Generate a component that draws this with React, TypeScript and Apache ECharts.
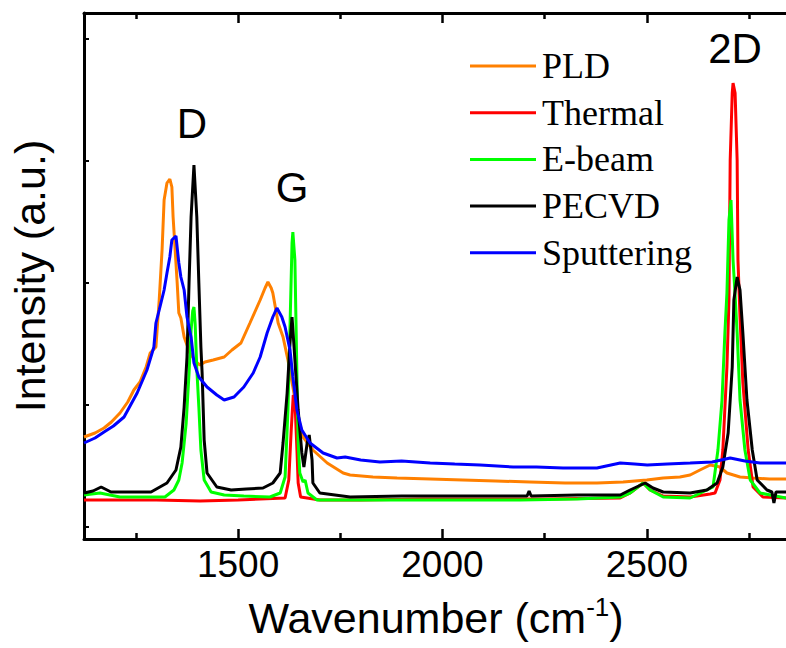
import React, { useEffect, useRef } from "react";
import * as echarts from "echarts";

const seriesNames = ["PLD", "Thermal", "E-beam", "PECVD", "Sputtering"];
const seriesColors = ["#FF8000", "#FF0000", "#00FF00", "#000000", "#0000FF"];

// [wavenumber (cm-1), intensity (a.u.)]
const pld: [number, number][] = [
  [1123, 102], [1150, 106], [1172, 111], [1190, 117], [1211, 126], [1230, 137], [1245, 149], [1260, 157],
  [1275, 172], [1285, 186], [1299, 192], [1307, 239], [1314, 289], [1319, 339], [1326, 356], [1333, 360],
  [1338, 352], [1341, 322], [1346, 289], [1351, 256], [1355, 226], [1360, 221], [1368, 202], [1382, 186],
  [1397, 177], [1407, 174], [1419, 177], [1439, 179], [1466, 182], [1485, 189], [1507, 196], [1529, 216],
  [1554, 239], [1566, 251], [1573, 257], [1581, 251], [1585, 246], [1598, 216], [1610, 202], [1622, 179],
  [1634, 152], [1647, 122], [1659, 102], [1683, 89], [1718, 76], [1757, 66], [1774, 64], [1830, 62],
  [1889, 61], [1970, 60], [2050, 59], [2130, 58], [2214, 57], [2300, 56], [2378, 56], [2442, 57],
  [2500, 59], [2540, 61], [2581, 62], [2606, 64], [2630, 69], [2655, 74], [2679, 72], [2696, 66],
  [2728, 62], [2760, 61], [2800, 60], [2841, 60],
];

const thermal: [number, number][] = [
  [1123, 39], [1200, 39], [1300, 39], [1407, 38], [1500, 39], [1615, 41], [1624, 59], [1630, 109],
  [1635, 144], [1639, 139], [1644, 89], [1647, 56], [1653, 42], [1700, 39], [1800, 39], [1950, 40],
  [2100, 40], [2250, 40], [2435, 41], [2459, 46], [2491, 56], [2508, 49], [2540, 43], [2606, 42],
  [2655, 45], [2667, 46], [2679, 59], [2686, 89], [2696, 172], [2701, 239], [2704, 379], [2709, 446],
  [2711, 456], [2716, 446], [2721, 379], [2723, 279], [2728, 222], [2735, 156], [2748, 89], [2760, 52],
  [2784, 42], [2841, 41],
];

const ebeam: [number, number][] = [
  [1123, 44], [1162, 46], [1211, 42], [1270, 42], [1321, 42], [1343, 49], [1355, 59], [1363, 76],
  [1373, 116], [1380, 166], [1385, 209], [1389, 228], [1392, 232], [1395, 215], [1399, 170], [1404, 132],
  [1409, 89], [1417, 59],
  [1434, 47], [1466, 44], [1514, 43], [1578, 42], [1603, 46], [1615, 62], [1622, 129], [1627, 212],
  [1632, 296], [1634, 307], [1639, 279], [1644, 162], [1647, 96], [1651, 66], [1659, 57], [1664, 59],
  [1671, 46], [1693, 39], [1800, 39], [1896, 39], [2050, 39], [2190, 39], [2330, 40], [2435, 42],
  [2459, 46], [2491, 56], [2508, 49], [2540, 42], [2606, 41], [2662, 52], [2674, 89], [2684, 139],
  [2691, 206], [2696, 246], [2701, 319], [2706, 339], [2711, 279], [2716, 244], [2721, 206], [2728, 139],
  [2740, 89], [2753, 59], [2777, 46], [2841, 41],
];

const pecvd: [number, number][] = [
  [1123, 46], [1145, 48], [1165, 52], [1189, 47], [1240, 47], [1287, 47], [1326, 56], [1348, 69],
  [1360, 92], [1368, 132], [1375, 182], [1380, 256], [1385, 322], [1392, 374], [1399, 322], [1404, 256],
  [1409, 192], [1412, 166], [1417, 99], [1424, 66], [1448, 52], [1483, 49], [1520, 50], [1561, 51],
  [1585, 56], [1603, 66], [1610, 96], [1620, 146], [1627, 196], [1632, 222], [1639, 179], [1647, 129],
  [1656, 86], [1661, 72], [1669, 96], [1674, 104], [1681, 79], [1683, 56], [1700, 46], [1774, 42],
  [1900, 43], [2019, 43], [2120, 43], [2207, 43], [2212, 48], [2217, 43], [2330, 44], [2435, 44],
  [2459, 49], [2496, 56], [2515, 51], [2540, 47], [2606, 46], [2647, 49], [2672, 56], [2686, 72],
  [2699, 106], [2709, 172], [2713, 239], [2721, 262], [2728, 249], [2735, 206], [2745, 139], [2758, 89],
  [2770, 59], [2794, 49], [2806, 47], [2811, 36], [2816, 47], [2841, 47],
];

const sputtering: [number, number][] = [
  [1123, 96], [1150, 101], [1172, 107], [1195, 113], [1221, 122], [1253, 146], [1277, 169], [1294, 192],
  [1299, 216], [1307, 229], [1319, 249], [1326, 266], [1333, 282], [1338, 299], [1348, 303], [1355, 276],
  [1360, 262], [1368, 249], [1375, 222], [1385, 202], [1392, 176], [1404, 162], [1424, 152], [1448, 144],
  [1466, 139], [1490, 142], [1514, 152], [1537, 166], [1554, 182], [1571, 206], [1585, 222], [1595, 231],
  [1607, 222], [1615, 212], [1627, 189], [1634, 162], [1644, 129], [1656, 109], [1676, 96], [1708, 86],
  [1742, 81], [1762, 82], [1800, 79], [1847, 77], [1900, 78], [1970, 76], [2030, 75], [2092, 74],
  [2173, 72], [2230, 72], [2295, 71], [2378, 71], [2435, 76], [2470, 75], [2501, 74], [2550, 75],
  [2606, 76], [2660, 77], [2704, 81], [2740, 78], [2777, 76], [2841, 76],
];

const seriesData = [pld, thermal, ebeam, pecvd, sputtering];

const majorTicks = [1500, 2000, 2500];
const minorTicks = [1250, 1750, 2250, 2750];
const yTicks = [12, 134, 256, 378, 500];
const X_MIN = 1123;
const X_MAX = 2865;
const Y_MIN = 0;
const Y_MAX = 526;

const peakLabels: [number, number, string][] = [
  [1387, 416, "D"],
  [1632, 352, "G"],
  [2716, 491, "2D"],
];

const SANS = "Liberation Sans";
const SERIF = "Liberation Serif";

export default function App() {
  const ref = useRef<HTMLDivElement>(null);

  useEffect(() => {
    if (!ref.current) return;
    const chart = echarts.init(ref.current, undefined, { renderer: "svg" });

    const gridRect = { left: 84, top: 13, width: 712, height: 526, outerBoundsMode: "none", containLabel: false };

    const lineSeries = seriesNames.map((name, i) => ({
      name,
      type: "line",
      xAxisIndex: 0,
      yAxisIndex: 0,
      data: seriesData[i],
      showSymbol: false,
      symbol: "none",
      lineStyle: { color: seriesColors[i], width: 3 },
      itemStyle: { color: seriesColors[i] },
      z: 2 + i,
    }));

    const option = {
      animation: false,
      backgroundColor: "#ffffff",
      grid: [{ ...gridRect }, { ...gridRect }],
      legend: {
        data: seriesNames,
        orient: "vertical",
        left: 470,
        top: 46,
        padding: 0,
        itemGap: 6.7,
        itemWidth: 66,
        itemHeight: 3,
        icon: "rect",
        textStyle: {
          fontFamily: SERIF,
          fontSize: 36,
          color: "#000",
          lineHeight: 40,
          padding: [0, 0, 0, 1],
        },
      },
      xAxis: [
        {
          type: "value",
          gridIndex: 0,
          position: "bottom",
          min: X_MIN,
          max: X_MAX,
          axisLine: { show: true, onZero: false, lineStyle: { color: "#000", width: 3 } },
          axisTick: { show: true, inside: true, length: 10, customValues: majorTicks, lineStyle: { color: "#000", width: 2.5 } },
          axisLabel: {
            show: true,
            customValues: majorTicks,
            formatter: (v: number) => String(v),
            fontFamily: SANS,
            fontSize: 37,
            color: "#000",
            margin: 7,
          },
          splitLine: { show: false },
          name: "Wavenumber (cm{sup|-1})",
          nameLocation: "middle",
          nameGap: 55,
          nameTextStyle: {
            fontFamily: SANS,
            fontSize: 43,
            color: "#000",
            padding: [0, 8, 0, 0],
            rich: {
              sup: { fontFamily: SANS, fontSize: 26, color: "#000", verticalAlign: "top", padding: [0, 0, 22, 0] },
            },
          },
        },
        {
          type: "value",
          gridIndex: 0,
          position: "top",
          min: X_MIN,
          max: X_MAX,
          axisLine: { show: true, onZero: false, lineStyle: { color: "#000", width: 3 } },
          axisTick: { show: true, inside: true, length: 10, customValues: majorTicks, lineStyle: { color: "#000", width: 2.5 } },
          axisLabel: { show: false },
          splitLine: { show: false },
        },
        {
          type: "value",
          gridIndex: 1,
          position: "bottom",
          min: X_MIN,
          max: X_MAX,
          axisLine: { show: false, onZero: false },
          axisTick: { show: true, inside: true, length: 6, customValues: minorTicks, lineStyle: { color: "#000", width: 2.5 } },
          axisLabel: { show: false },
          splitLine: { show: false },
        },
        {
          type: "value",
          gridIndex: 1,
          position: "top",
          min: X_MIN,
          max: X_MAX,
          axisLine: { show: false, onZero: false },
          axisTick: { show: true, inside: true, length: 6, customValues: minorTicks, lineStyle: { color: "#000", width: 2.5 } },
          axisLabel: { show: false },
          splitLine: { show: false },
        },
      ],
      yAxis: [
        {
          type: "value",
          gridIndex: 0,
          position: "left",
          min: Y_MIN,
          max: Y_MAX,
          axisLine: { show: true, onZero: false, lineStyle: { color: "#000", width: 3 } },
          axisTick: { show: true, inside: true, length: 5, customValues: yTicks, lineStyle: { color: "#000", width: 2 } },
          axisLabel: { show: false },
          splitLine: { show: false },
          name: "Intensity (a.u.)",
          nameLocation: "middle",
          nameGap: 33,
          nameTextStyle: { fontFamily: SANS, fontSize: 43, color: "#000" },
        },
        {
          type: "value",
          gridIndex: 1,
          min: Y_MIN,
          max: Y_MAX,
          show: false,
        },
      ],
      series: [
        ...lineSeries,
        {
          name: "peaks",
          type: "scatter",
          xAxisIndex: 0,
          yAxisIndex: 0,
          data: peakLabels,
          symbolSize: 0,
          silent: true,
          z: 20,
          itemStyle: { opacity: 1, color: "#000" },
          label: {
            show: true,
            position: "inside",
            formatter: (p: any) => p.data[2],
            fontFamily: SANS,
            fontSize: 42,
            color: "#000",
            opacity: 1,
            textBorderWidth: 0,
          },
        },
      ],
    };

    chart.setOption(option as any);
    return () => chart.dispose();
  }, []);

  return (
    <div
      ref={ref}
      style={{ position: "absolute", left: 0, top: 0, width: 786, height: 648, background: "#fff" }}
    />
  );
}
